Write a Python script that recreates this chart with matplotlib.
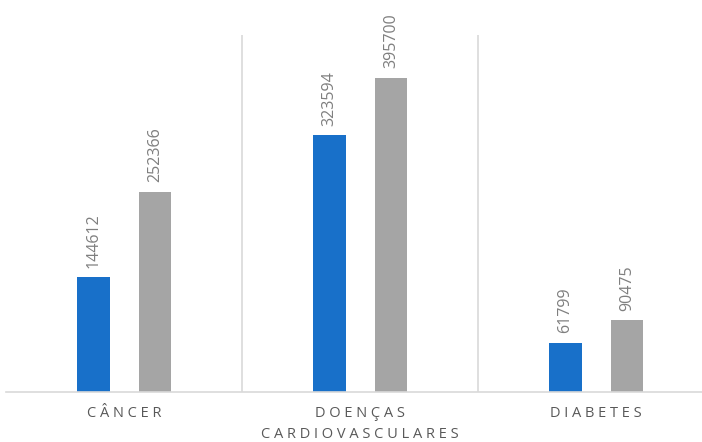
import matplotlib.pyplot as plt
import numpy as np

categories = ['CÂNCER', 'DOENÇAS\nCARDIOVASCULARES', 'DIABETES']
series_a = [144612, 323594, 61799]
series_b = [252366, 395700, 90475]

BLUE = '#1870c9'
GRAY = '#a5a5a5'
LINE = '#d9d9d9'
TEXT = '#595959'


def spaced(label):
    # widen letter spacing the way the office chart does
    return '\n'.join(' '.join(line) for line in label.split('\n'))


fig = plt.figure(figsize=(7.02, 4.42), dpi=100)
left_px = 6.3
ax = fig.add_axes([left_px / 702, (442 - 392) / 442,
                   (702 - left_px) / 702, (392 - 35) / 442])

x = np.arange(len(categories))
w = 0.137
off = 0.1305
bars_a = ax.bar(x - off, series_a, w, color=BLUE)
bars_b = ax.bar(x + off, series_b, w, color=GRAY)

for bars, vals in ((bars_a, series_a), (bars_b, series_b)):
    for b, v in zip(bars, vals):
        ax.annotate(str(v), (b.get_x() + b.get_width() / 2, v),
                    xytext=(0, 7), textcoords='offset points',
                    rotation=90, ha='center', va='bottom',
                    fontsize=11.5, color='#7f7f7f', family='Open Sans')

ax.set_xlim(-0.5, 0.5 + (702 - 242.3) / 236)
ax.set_ylim(0, 450000)

for sep in (0.5, 1.5):
    ax.axvline(sep, color=LINE, lw=1.2, zorder=0)

for s in ('top', 'right', 'left'):
    ax.spines[s].set_visible(False)
ax.spines['bottom'].set_color(LINE)
ax.spines['bottom'].set_linewidth(1.2)

ax.set_yticks([])
ax.set_xticks(x)
ax.set_xticklabels([spaced(c) for c in categories], fontsize=10.5,
                   color=TEXT, family='Open Sans', linespacing=1.55)
ax.tick_params(axis='x', length=0, pad=10)

fig.savefig('out.png', dpi=100)
